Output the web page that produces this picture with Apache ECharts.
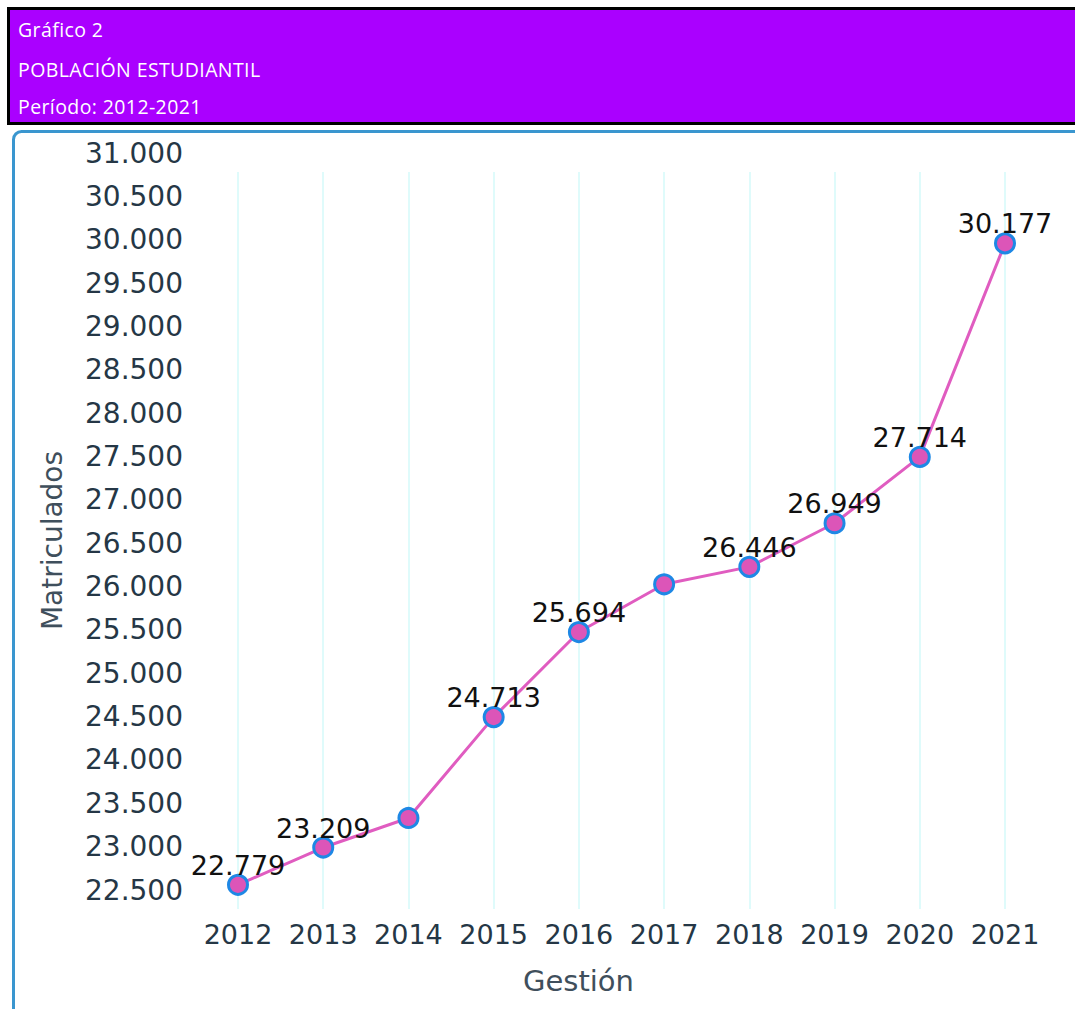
<!DOCTYPE html>
<html>
<head>
<meta charset="utf-8">
<script src="https://cdn.jsdelivr.net/npm/echarts@6/dist/echarts.min.js"></script>
<style>
html,body{margin:0;padding:0;background:#fff;}
#wrap{position:relative;width:1075px;height:1009px;overflow:hidden;}
#chart{position:absolute;left:0;top:0;width:1075px;height:1009px;}
.hdr{position:absolute;left:18px;color:#fff;font-family:"Open Sans",sans-serif;font-size:19.5px;line-height:20px;letter-spacing:0.4px;white-space:nowrap;}
</style>
</head>
<body>
<div id="wrap">
<div id="chart"></div>
<div class="hdr" id="h0" style="top:20px"></div>
<div class="hdr" id="h1" style="top:60px"></div>
<div class="hdr" id="h2" style="top:97px"></div>
</div>
<script>
const headerLines = ['Gráfico 2', 'POBLACIÓN ESTUDIANTIL', 'Período: 2012-2021'];
const years = ['2012','2013','2014','2015','2016','2017','2018','2019','2020','2021'];
const matriculados = [22779, 23209, 23550, 24713, 25694, 26245, 26446, 26949, 27714, 30177];
const hiddenLabelYears = ['2014','2017'];
const yMin = 22500, yMax = 31000, yStep = 500;
const xAxisTitle = 'Gestión';
const yAxisTitle = 'Matriculados';

headerLines.forEach((t,i)=>{ document.getElementById('h'+i).textContent = t; });

const fmt = v => v.toLocaleString('de-DE');
const FONT = '"DejaVu Sans"';

const chart = echarts.init(document.getElementById('chart'), null, {renderer:'svg'});
chart.setOption({
  animation:false,
  textStyle:{fontFamily:FONT},
  graphic:[
    {type:'rect', shape:{x:8.5,y:8.5,width:1080,height:115}, style:{fill:'#aa00ff', stroke:'#000', lineWidth:3}},
    {type:'rect', shape:{x:13.5,y:131.5,width:1100,height:1000,r:8}, style:{fill:'none', stroke:'#3a96cf', lineWidth:3}}
  ],
  grid:{left:238, right:70, top:172, bottom:100},
  xAxis:{
    type:'category', data:years, boundaryGap:false,
    axisLine:{show:false}, axisTick:{show:false},
    axisLabel:{interval:0, hideOverlap:false, fontSize:27, color:'#253746', margin:12, fontFamily:FONT},
    splitLine:{show:true, interval:0, lineStyle:{color:'#dffbfb', width:2}},
    name:xAxisTitle, nameLocation:'middle', nameGap:57,
    nameTextStyle:{fontSize:29, color:'#3f4f5c', padding:[0,86,0,0], fontFamily:FONT}
  },
  yAxis:{
    type:'value', min:yMin, max:yMax, interval:yStep,
    axisLine:{show:false}, axisTick:{show:false}, splitLine:{show:false},
    axisLabel:{fontSize:28, lineHeight:28, color:'#253746', margin:55, verticalAlign:'bottom', padding:[0,0,5,0], formatter:fmt, fontFamily:FONT},
    name:yAxisTitle, nameLocation:'middle', nameGap:172,
    nameTextStyle:{fontSize:28, color:'#3f4f5c', fontFamily:FONT}
  },
  series:[{
    type:'line',
    data:matriculados.map((v,i)=>({value:v, label:{show: hiddenLabelYears.indexOf(years[i])<0}})),
    lineStyle:{color:'#e05cc0', width:3},
    symbol:'circle', symbolSize:19,
    itemStyle:{color:'#dc55b8', borderColor:'#1e88e5', borderWidth:3},
    label:{show:true, position:'top', distance:-5, fontSize:27, color:'#111', fontFamily:FONT, formatter:p=>fmt(p.value)},
    z:3
  }]
});
</script>
</body>
</html>
